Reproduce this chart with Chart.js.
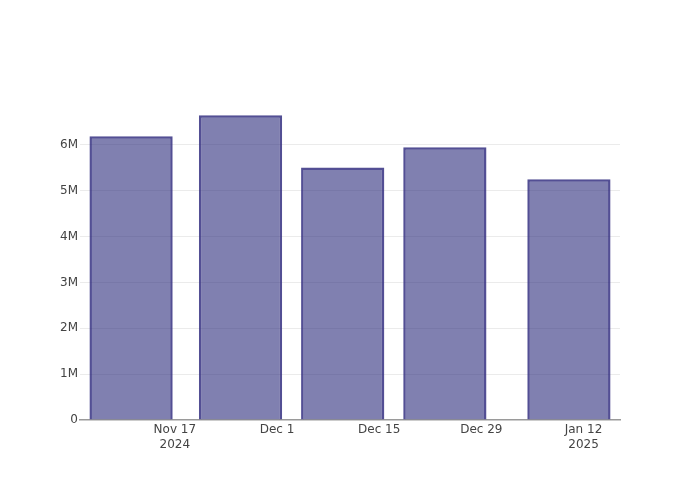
<!DOCTYPE html>
<html>
<head>
<meta charset="utf-8">
<script src="https://cdn.jsdelivr.net/npm/chart.js@4"></script>
<style>
  html, body { margin: 0; padding: 0; background: #fff; }
  #wrap { width: 700px; height: 500px; }
</style>
</head>
<body>
<div id="wrap"><canvas id="c" width="700" height="500"></canvas></div>
<script>
// Data
const barDates = ['2024-11-11', '2024-11-26', '2024-12-10', '2024-12-24', '2025-01-10'];
const barValues = [6190000, 6650000, 5510000, 5950000, 5250000];
const tickDates = ['2024-11-17', '2024-12-01', '2024-12-15', '2024-12-29', '2025-01-12'];
const tickLabels = [['Nov 17', '2024'], 'Dec 1', 'Dec 15', 'Dec 29', ['Jan 12', '2025']];
const yTicks = [0, 1000000, 2000000, 3000000, 4000000, 5000000, 6000000];
const yTickLabels = ['0', '1M', '2M', '3M', '4M', '5M', '6M'];
const xRange = ['2024-11-04', '2025-01-17'];
const yMax = 6980000;

const toDay = s => Date.parse(s + 'T00:00:00Z') / 86400000;
const tickDays = tickDates.map(toDay);
const points = barDates.map((d, i) => ({ x: toDay(d), y: barValues[i] }));

const FONT = { family: 'DejaVu Sans', size: 12 };

new Chart(document.getElementById('c'), {
  type: 'bar',
  data: {
    datasets: [{
      data: points,
      backgroundColor: 'rgba(43,43,123,0.6)',
      borderColor: 'rgba(45,40,125,0.82)',
      borderWidth: 2.5,
      borderSkipped: 'start',
      categoryPercentage: 0.815,
      barPercentage: 1.0
    }]
  },
  options: {
    responsive: false,
    animation: false,
    layout: { padding: { top: 100, right: 80, left: 0, bottom: 0 } },
    plugins: { legend: { display: false }, tooltip: { enabled: false } },
    scales: {
      x: {
        type: 'linear',
        offset: false,
        min: toDay(xRange[0]),
        max: toDay(xRange[1]),
        grid: { display: false, drawTicks: false, offset: false },
        border: { display: true, color: '#9a9a9a', width: 1.5 },
        afterBuildTicks: s => { s.ticks = tickDays.map(v => ({ value: v })); },
        afterFit: s => { s.height = 80; },
        ticks: {
          autoSkip: false,
          maxRotation: 0,
          minRotation: 0,
          padding: 3,
          color: '#444',
          font: FONT,
          callback: (v) => {
            const i = tickDays.indexOf(v);
            return i >= 0 ? tickLabels[i] : '';
          }
        }
      },
      y: {
        min: 0,
        max: yMax,
        grid: {
          drawTicks: false,
          color: ctx => (ctx.tick && ctx.tick.value === 0) ? 'rgba(0,0,0,0)' : '#ebebeb',
          lineWidth: 1
        },
        border: { display: false },
        afterBuildTicks: s => { s.ticks = yTicks.map(v => ({ value: v })); },
        afterFit: s => { s.width = 80; },
        ticks: {
          padding: 2,
          color: '#444',
          font: FONT,
          callback: v => {
            const i = yTicks.indexOf(v);
            return i >= 0 ? yTickLabels[i] : '';
          }
        }
      }
    }
  }
});
</script>
</body>
</html>
